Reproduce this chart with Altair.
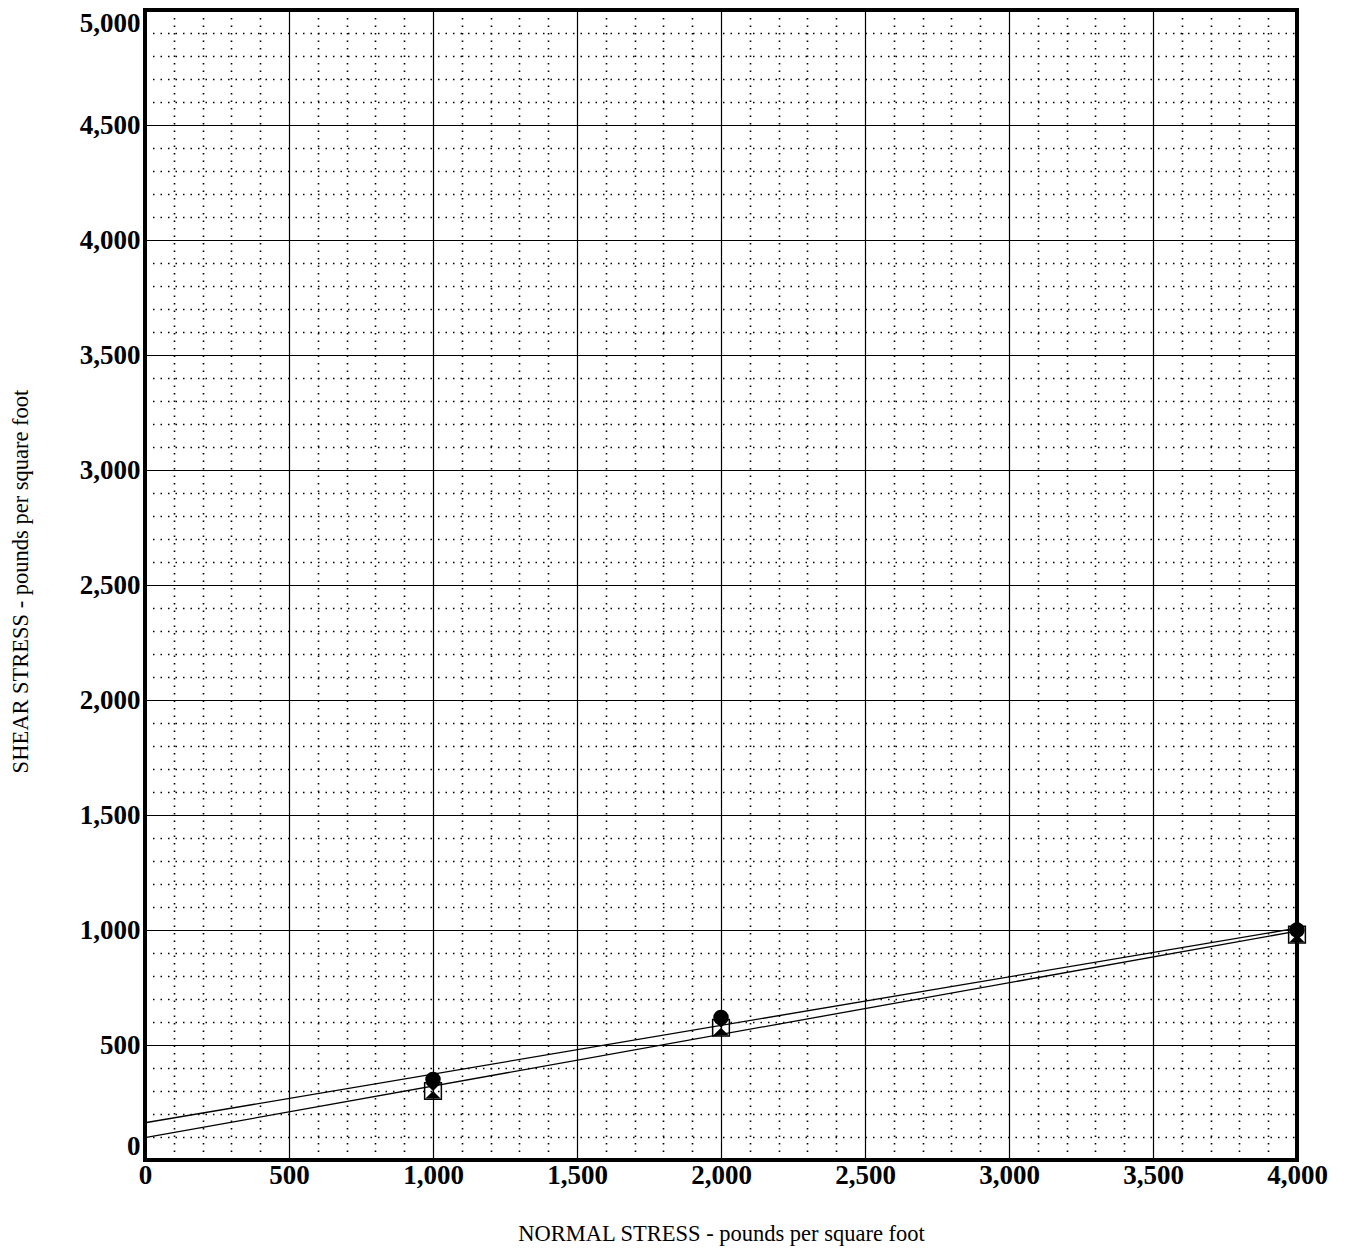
import altair as alt
import pandas as pd

# Test data
normal_stress = [1000, 2000, 4000]
shear_circle = [350, 620, 1000]
shear_square = [300, 575, 980]

# Fitted strength lines (end points)
fit_x = [0, 4000]
fit_upper = [162, 1008]
fit_lower = [97, 995]

x_ticks = list(range(0, 4001, 100))
y_ticks = list(range(0, 5001, 100))

FONT = "Liberation Serif"

pts = pd.DataFrame({"x": normal_stress, "c": shear_circle, "s": shear_square})
lines = pd.DataFrame({
    "x": fit_x + fit_x,
    "y": fit_upper + fit_lower,
    "fit": ["upper"] * 2 + ["lower"] * 2,
})

major = "datum.value % 500 === 0"
grid_dash = {"condition": {"test": major, "value": []}, "value": [1.5, 6]}
grid_width = {"condition": {"test": major, "value": 1.2}, "value": 1.6}
label_expr = "datum.value % 500 === 0 ? format(datum.value, ',') : ''"

common_axis = dict(
    grid=True, gridColor="black", gridDash=grid_dash, gridWidth=grid_width,
    gridOpacity=1, ticks=False, domain=False, tickCount=1000,
    labelExpr=label_expr, labelFont=FONT, labelFontWeight="bold",
    labelFontSize=27, labelColor="black", labelOverlap=False,
    titleFont=FONT, titleFontWeight="normal", titleFontSize=22.5,
    titleColor="black",
)

x_axis = alt.Axis(values=x_ticks, labelPadding=2, labelFlush=False,
                  titleX=576, titleY=73, titleBaseline="middle", **common_axis)
y_axis = alt.Axis(values=y_ticks, labelPadding=5, labelFlush=True,
                  titleX=-125, titleY=571, titleAngle=-90,
                  titleBaseline="middle", **common_axis)

xs = alt.Scale(domain=[0, 4000], nice=False, zero=False)
ys = alt.Scale(domain=[0, 5000], nice=False, zero=False)

X_TITLE = "NORMAL STRESS - pounds per square foot"
Y_TITLE = "SHEAR STRESS - pounds per square foot"

line_layer = alt.Chart(lines).mark_line(color="black", strokeWidth=1.3).encode(
    x=alt.X("x:Q", scale=xs, axis=x_axis, title=X_TITLE),
    y=alt.Y("y:Q", scale=ys, axis=y_axis, title=Y_TITLE),
    detail="fit:N",
)

base = alt.Chart(pts)
square = base.mark_point(shape="square", size=280, filled=False,
                         stroke="black", strokeWidth=1.5, opacity=1).encode(
    x=alt.X("x:Q", scale=xs), y=alt.Y("s:Q", scale=ys))
hourglass = base.mark_point(shape="M-1,-1L1,-1L0,0Z M0,0L-1,1L1,1Z", size=230,
                            filled=True, fill="black", strokeWidth=0,
                            opacity=1).encode(
    x=alt.X("x:Q", scale=xs), y=alt.Y("s:Q", scale=ys))
circle = base.mark_point(shape="circle", size=240, filled=True,
                         fill="black", strokeWidth=0, opacity=1).encode(
    x=alt.X("x:Q", scale=xs), y=alt.Y("c:Q", scale=ys))

chart = alt.layer(line_layer, square, hourglass, circle).properties(
    width=1152, height=1150,
    autosize=alt.AutoSizeParams(type="none"),
    padding={"left": 137, "top": 2, "right": 32, "bottom": 88},
    background="white",
).configure_view(stroke="black", strokeWidth=4)

chart.save("out.html", embed_options={"renderer": "svg", "actions": False})
